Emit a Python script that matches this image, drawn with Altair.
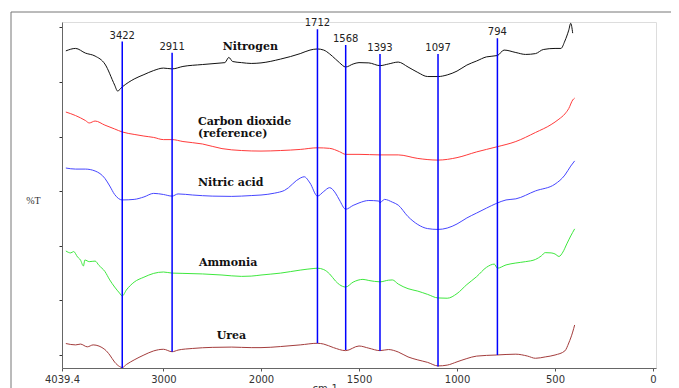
import altair as alt
import pandas as pd

# ---- data (%T, arbitrary offset units) ----
n2_wn = [4000,3900,3800,3700,3600,3500,3470,3422,3300,3200,3100,3000,2911,2800,2600,2400,2370,2330,2290,2200,
         2100,2000,1900,1800,1750,1712,1680,1650,1620,1600,1568,1530,1500,1450,1393,1350,1300,1250,1200,1150,
         1097,1050,1000,950,900,850,794,760,700,650,600,560,500,470,450,430,420,410]
n2_t = [111.4,112.3,110.6,109.5,106.6,98.9,96.7,98.2,101.1,102.7,104.2,105.1,104.8,105.7,106.4,107.0,107.1,109.0,107.5,107.1,
        106.8,107.0,108.4,110.4,111.7,112.1,111.7,110.3,108.4,107.1,105.5,106.6,107.1,107.0,106.0,106.6,107.3,105.5,103.5,102.0,
        102.0,102.6,104.0,106.2,107.7,109.2,109.7,111.7,110.8,110.1,110.4,111.9,112.3,112.3,115.0,119.0,121.5,117.9]

co2_wn = [4000,3900,3800,3760,3700,3600,3500,3422,3300,3200,3100,3000,2911,2800,2600,2400,2200,2000,1900,1800,
          1712,1650,1600,1568,1500,1393,1300,1200,1097,1000,900,800,700,600,520,480,450,430,410,400]
co2_t = [89.0,87.7,85.9,85.0,85.7,84.2,82.8,81.7,80.8,80.2,79.7,78.9,78.9,78.2,77.3,75.6,74.9,74.7,74.9,75.3,
         75.9,75.7,74.5,73.5,73.5,73.3,73.3,72.0,71.4,72.3,74.4,76.2,78.2,81.5,84.4,86.4,88.3,90.3,93.4,94.1]

hno3_wn = [4000,3900,3800,3700,3600,3550,3500,3422,3300,3200,3100,3000,2911,2850,2700,2500,2300,2100,2000,1930,
           1880,1800,1780,1750,1712,1680,1650,1620,1600,1568,1530,1500,1450,1400,1393,1370,1330,1300,1250,1200,
           1150,1097,1050,1000,950,900,850,800,750,700,600,500,450,420,400]
hno3_t = [68.5,68.1,68.1,67.4,64.7,61.9,58.8,56.8,57.0,57.9,59.2,58.8,58.2,59.0,58.6,58.2,58.1,58.4,58.6,59.3,
          60.3,64.8,65.3,63.0,58.2,59.9,61.3,59.3,56.8,53.4,54.8,55.7,56.6,56.4,55.8,57.0,56.0,54.9,50.7,47.8,
          46.3,46.0,46.5,48.0,50.2,52.0,53.8,55.5,56.8,57.2,60.1,62.6,65.9,69.2,71.1]

nh3_wn = [4000,3950,3920,3880,3850,3820,3805,3760,3700,3660,3600,3550,3500,3450,3422,3380,3300,3200,3100,3000,
          2911,2800,2600,2400,2200,2100,2000,1900,1800,1730,1712,1680,1650,1620,1600,1568,1530,1480,1450,1393,
          1350,1330,1300,1250,1200,1150,1097,1050,1000,950,900,850,810,794,750,700,650,600,570,550,
          520,500,480,460,440,420,400]
nh3_t = [38.1,37.4,37.9,35.9,34.8,32.6,34.8,34.2,34.4,32.8,30.6,27.5,24.9,22.7,21.6,23.8,26.7,28.5,29.9,30.4,
         30.0,29.9,29.7,29.3,28.8,28.9,29.3,30.0,31.1,31.7,31.8,31.3,29.7,27.1,25.8,24.9,26.7,27.7,27.3,26.8,
         27.4,27.5,26.0,24.3,23.4,22.2,20.9,20.8,22.5,25.8,28.7,32.1,33.3,31.8,33.0,33.7,34.2,35.0,36.3,37.5,
         37.4,37.0,36.1,37.7,40.7,43.6,46.2]

urea_wn = [4000,3900,3850,3780,3720,3600,3550,3500,3450,3422,3380,3300,3200,3100,3000,2911,2850,2700,2500,2300,
           2100,2000,1900,1800,1712,1680,1630,1568,1500,1450,1393,1350,1300,1250,1200,1150,1097,1050,1000,950,
           900,800,700,640,600,550,500,450,430,410,400]
urea_t = [4.2,3.7,4.0,3.0,3.7,2.0,0.0,-2.6,-4.2,-4.6,-3.5,-1.8,0.0,1.5,2.1,1.2,1.8,2.4,2.8,2.9,
          2.7,2.7,3.1,3.7,4.3,4.0,2.7,1.6,3.3,2.5,1.6,2.0,1.1,-0.7,-1.8,-2.7,-4.0,-3.7,-2.5,-1.3,
          -0.4,0.0,0.3,-0.4,-1.2,-0.7,0.0,1.5,4.4,8.4,11.0]

series_names = ["Nitrogen", "Carbon dioxide", "Nitric acid", "Ammonia", "Urea"]
series_colors = ["#111111", "#ff3b3b", "#4646ff", "#3ee83e", "#a33c3c"]

peak_wn = [3422, 2911, 1712, 1568, 1393, 1097, 794]
peak_top = [114.8, 110.7, 119.3, 113.6, 110.3, 110.3, 116.0]
peak_bottom = [-4.76, 1.2, 4.3, 1.8, 1.6, -4.2, 0.0]

label_text = ["Nitrogen", "Carbon dioxide", "(reference)", "Nitric acid", "Ammonia", "Urea"]
label_wn = [2392, 2646, 2646, 2646, 2636, 2454]
label_t = [112.9, 85.5, 80.8, 63.1, 33.8, 7.1]

x_ticks = [4039.4, 3000, 2000, 1500, 1000, 500, 0]
y_ticks = list(range(0, 121, 10))

# ---- tables ----
rows = []
for name, wn, t in zip(series_names, [n2_wn, co2_wn, hno3_wn, nh3_wn, urea_wn],
                       [n2_t, co2_t, hno3_t, nh3_t, urea_t]):
    for a, b in zip(wn, t):
        rows.append({"series": name, "wn": a, "t": b})
spec = pd.DataFrame(rows)
peaks = pd.DataFrame({"wn": peak_wn, "top": peak_top, "bottom": peak_bottom,
                      "lab": [str(p) for p in peak_wn]})
labels = pd.DataFrame({"wn": label_wn, "t": label_t, "txt": label_text})

xscale = alt.Scale(domain=[4039.4, 2000, -15], range=[0, 199, 594], nice=False, zero=False)
yscale = alt.Scale(domain=[-4.76, 121.98], nice=False, zero=False)

xaxis = alt.Axis(values=x_ticks, labelExpr="'' + datum.value", title="cm-1", grid=False,
                 labelFont="DejaVu Sans", labelFontSize=10, labelColor="#333",
                 labelPadding=3, tickSize=3, tickColor="#555", domainColor="#666",
                 titleFont="DejaVu Sans", titleFontSize=10, titleFontWeight="normal",
                 titleColor="#333", titleX=262.7, titleY=15, titleBaseline="top",
                 titleAnchor="start", titleAlign="center", labelFlush=False, labelOverlap=False)
yaxis = alt.Axis(values=y_ticks, labels=False, title="%T", grid=False, tickSize=3,
                 tickColor="#333", tickWidth=1, tickRound=True, domainColor="#666", titleAngle=0,
                 titleFont="Liberation Serif", titleFontSize=10, titleFontWeight="normal",
                 titleColor="#333", titleX=-29, titleY=178.7, titleAlign="center",
                 titleBaseline="middle", titleAnchor="start")

lines = alt.Chart(spec).mark_line(strokeWidth=1, clip=True, interpolate="monotone").encode(
    x=alt.X("wn:Q", scale=xscale, axis=xaxis),
    y=alt.Y("t:Q", scale=yscale, axis=yaxis),
    color=alt.Color("series:N", scale=alt.Scale(domain=series_names, range=series_colors), legend=None),
    detail="series:N",
)

rules = alt.Chart(peaks).mark_rule(color="#0000ff", strokeWidth=1.5).encode(
    x=alt.X("wn:Q", scale=xscale), y=alt.Y("top:Q", scale=yscale), y2="bottom:Q"
)
peak_text = alt.Chart(peaks).mark_text(font="DejaVu Sans", fontSize=10, color="#222",
                                       baseline="bottom", dy=-1).encode(
    x=alt.X("wn:Q", scale=xscale), y=alt.Y("top:Q", scale=yscale), text="lab:N"
)
names = alt.Chart(labels).mark_text(font="DejaVu Serif", fontSize=11, fontWeight="bold",
                                    color="#111", align="left", baseline="middle").encode(
    x=alt.X("wn:Q", scale=xscale), y=alt.Y("t:Q", scale=yscale), text="txt:N"
)

frame = pd.DataFrame({"k": [0]})
top_border = alt.Chart(frame).mark_rule(color="#777", strokeWidth=1).encode(
    x=alt.value(-51), x2=alt.value(609), y=alt.value(-10))
left_border = alt.Chart(frame).mark_rule(color="#777", strokeWidth=1).encode(
    x=alt.value(-51), y=alt.value(-10), y2=alt.value(380))

chart = alt.layer(top_border, left_border, lines, rules, peak_text, names).properties(
    width=594, height=346,
    autosize=alt.AutoSizeParams(type="none"),
    padding={"left": 54, "top": 14, "right": 15, "bottom": 20},
).configure_view(stroke="#555", strokeWidth=1).configure(background="white")

chart.save("out.html", embed_options={"renderer": "svg", "actions": False})
